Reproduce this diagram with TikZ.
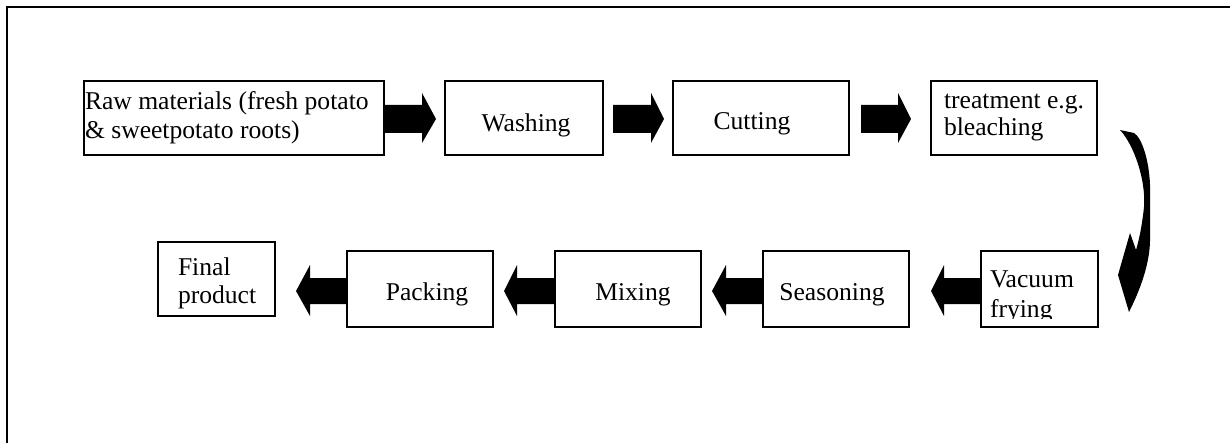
\documentclass[tikz,border=0pt]{standalone}
\usepackage{fontspec}
\setmainfont{Liberation Serif}
\begin{document}
\begin{tikzpicture}[x=0.5pt,y=-0.5pt,
  box/.style={draw, line width=0.6pt, inner sep=0pt, outer sep=0pt},
  lbl/.style={inner sep=0pt, outer sep=0pt, font=\fontsize{12.8}{15}\selectfont},
  blk/.style={fill=black}]
\useasboundingbox (0,0) rectangle (1230,443);
% frame
\draw[line width=1.1pt] (7,443) -- (7,7) -- (1230,7);
% top row boxes
\node (raw) [box, minimum width=150pt, minimum height=37pt] at (234,118) {};
\node (wash) [box, minimum width=79pt, minimum height=37pt] at (524,118) {};
\node (cut) [box, minimum width=88pt, minimum height=37pt] at (761,118) {};
\node (treat) [box, minimum width=83pt, minimum height=37pt] at (1014,118) {};
% bottom row boxes
\node (final) [box, minimum width=58.5pt, minimum height=37pt] at (216.5,279) {};
\node (pack) [box, minimum width=73pt, minimum height=38pt] at (420,289) {};
\node (mix) [box, minimum width=73pt, minimum height=38pt] at (628,289) {};
\node (season) [box, minimum width=73pt, minimum height=38pt] at (836,289) {};
\node (vac) [box, minimum width=58.5pt, minimum height=38pt] at (1039.5,289) {};
% texts
\node (rawa) [lbl, anchor=base west] at (85,110) {Raw materials (fresh potato};
\node (rawb) [lbl, anchor=base west] at (85,139) {\& sweetpotato roots)};
\node (washt) [lbl, anchor=base] at (526,132) {Washing};
\node (cutt) [lbl, anchor=base] at (752,130) {Cutting};
\node (treata) [lbl, anchor=base west] at (944,109) {treatment e.g.};
\node (treatb) [lbl, anchor=base west] at (944,136) {bleaching};
\node (finala) [lbl, anchor=base west] at (178,275) {Final};
\node (finalb) [lbl, anchor=base west] at (178,303) {product};
\node (packt) [lbl, anchor=base] at (427,300) {Packing};
\node (mixt) [lbl, anchor=base] at (633,300) {Mixing};
\node (seasont) [lbl, anchor=base] at (832,300) {Seasoning};
\node (vaca) [lbl, anchor=base west] at (990,287) {Vacuum};
\begin{scope}
\clip (981,251) rectangle (1098,318);
\node (vacb) [lbl, anchor=base west] at (990,317) {frying};
\end{scope}
% right block arrows (top row)
\fill[blk] (384,105) -- (422,105) -- (422,93) -- (436,119) -- (422,143) -- (422,133) -- (384,133) -- cycle;
\fill[blk] (613,105) -- (651,105) -- (651,93) -- (664,119) -- (651,143) -- (651,133) -- (613,133) -- cycle;
\fill[blk] (861,105) -- (898,105) -- (898,93) -- (911,119) -- (898,143) -- (898,133) -- (861,133) -- cycle;
% left block arrows (bottom row)
\fill[blk] (981,278) -- (944,278) -- (944,265) -- (931,291) -- (944,316) -- (944,304) -- (981,304) -- cycle;
\fill[blk] (763,278) -- (726,278) -- (726,265) -- (712,291) -- (726,316) -- (726,304) -- (763,304) -- cycle;
\fill[blk] (555,278) -- (517,278) -- (517,265) -- (504,291) -- (517,316) -- (517,304) -- (555,304) -- cycle;
\fill[blk] (347,278) -- (310,278) -- (310,265) -- (296,291) -- (310,316) -- (310,304) -- (347,304) -- cycle;
% curved arrow from treatment to vacuum frying
\fill[blk] (1120,130) .. controls (1134,145) and (1146,180) .. (1144,207)
  .. controls (1142,226) and (1139,240) .. (1136,250)
  -- (1130,233) -- (1118,275) -- (1129,312)
  .. controls (1140,290) and (1151,262) .. (1150,235)
  -- (1150,185) .. controls (1149,160) and (1142,138) .. (1134,133) -- cycle;
\end{tikzpicture}
\end{document}
